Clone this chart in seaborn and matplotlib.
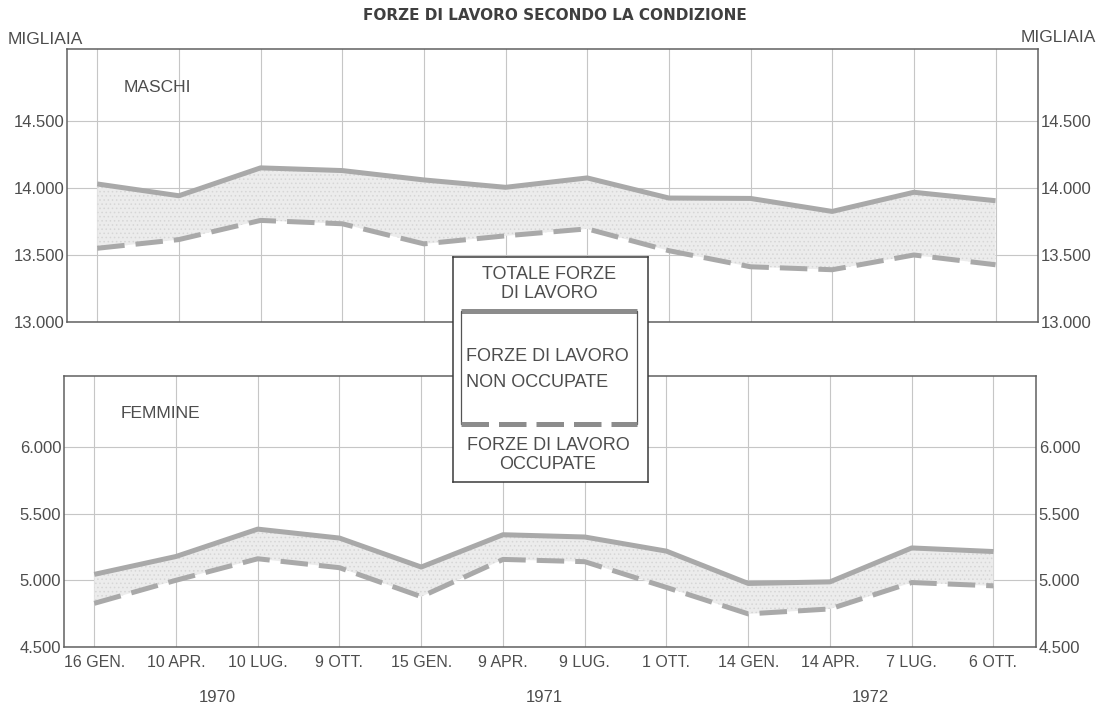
import matplotlib as mpl
import matplotlib.pyplot as plt
import numpy as np
import pandas as pd
import seaborn as sns

# rilevazioni trimestrali (migliaia)
date_labels = ["16 GEN.", "10 APR.", "10 LUG.", "9 OTT.", "15 GEN.", "9 APR.",
               "9 LUG.", "1 OTT.", "14 GEN.", "14 APR.", "7 LUG.", "6 OTT."]
years = ["1970", "1971", "1972"]

maschi_totale = [14030, 13942, 14150, 14130, 14060, 14005, 14075, 13925, 13922, 13825, 13968, 13905]
maschi_occupate = [13550, 13615, 13758, 13733, 13583, 13643, 13695, 13532, 13412, 13390, 13500, 13427]
femmine_totale = [5044, 5178, 5383, 5316, 5099, 5341, 5324, 5218, 4976, 4988, 5242, 5215]
femmine_occupate = [4827, 5000, 5161, 5094, 4877, 5156, 5139, 4946, 4748, 4785, 4983, 4958]

LINE_COLOR = "#a9a9a9"
FILL_COLOR = "#ececec"
GRID_COLOR = "#c6c6c6"
TEXT_COLOR = "#4d4d4d"
SPINE_COLOR = "#606060"
LW = 3.6
DASHES = (5.5, 2.2)

W, H = 1109, 709

sns.set_style("white")
plt.rcParams["font.family"] = ["Liberation Sans", "DejaVu Sans"]
plt.rcParams["hatch.linewidth"] = 0.6


def fmt_thousands(v, pos):
    return f"{v:,.0f}".replace(",", ".")


def plot_panel(ax, totale, occupate, ylim, yticks, label):
    pos = np.arange(len(totale))
    df = pd.DataFrame({
        "pos": np.concatenate([pos, pos]),
        "valore": totale + occupate,
        "serie": ["totale"] * len(pos) + ["occupate"] * len(pos),
    })
    ax.fill_between(pos, occupate, totale, facecolor=FILL_COLOR,
                    edgecolor="#d6d6d6", hatch="....", lw=0, zorder=1)
    sns.lineplot(data=df, x="pos", y="valore", style="serie",
                 dashes={"totale": "", "occupate": DASHES},
                 color=LINE_COLOR, lw=LW, legend=False, ax=ax, zorder=3)
    for line in ax.lines:
        line.set_solid_capstyle("butt")
        line.set_dash_capstyle("butt")

    ax.set_xlim(-0.37, 11.52)
    ax.set_ylim(*ylim)
    ax.set_xticks(pos)
    ax.set_yticks(yticks)
    ax.yaxis.set_major_formatter(mpl.ticker.FuncFormatter(fmt_thousands))
    ax.grid(True, color=GRID_COLOR, lw=0.8, zorder=0)
    ax.set_axisbelow(True)
    ax.tick_params(length=0, labelsize=12, labelcolor=TEXT_COLOR,
                   labelleft=True, labelright=True, pad=2)
    ax.set_xlabel("")
    ax.set_ylabel("")
    for sp in ax.spines.values():
        sp.set_visible(True)
        sp.set_color(SPINE_COLOR)
        sp.set_linewidth(1.1)
    ax.text(0.058, 0.86, label, transform=ax.transAxes, fontsize=12.5,
            color=TEXT_COLOR, ha="left", va="center")


fig = plt.figure(figsize=(W / 100, H / 100), dpi=100)

ax_m = fig.add_axes([67 / W, 1 - 322 / H, (1038 - 67) / W, (322 - 49) / H])
plot_panel(ax_m, maschi_totale, maschi_occupate, (13000, 15037),
           [13000, 13500, 14000, 14500], "MASCHI")
ax_m.tick_params(labelbottom=False)

ax_f = fig.add_axes([64 / W, 1 - 647 / H, (1036 - 64) / W, (647 - 376) / H])
plot_panel(ax_f, femmine_totale, femmine_occupate, (4500, 6530),
           [4500, 5000, 5500, 6000], "FEMMINE")
ax_f.set_xticklabels(date_labels, fontsize=11.5)
ax_f.tick_params(axis="x", pad=6)

# anni sotto le date
for i, yr in enumerate(years):
    ax_f.text(4 * i + 1.5, -0.185, yr, transform=ax_f.get_xaxis_transform(),
              ha="center", va="center", fontsize=12, color=TEXT_COLOR)

fig.text(0.5, 1 - 16 / H, "FORZE DI LAVORO SECONDO LA CONDIZIONE",
         ha="center", va="center", fontsize=11, fontweight="bold",
         color="#3f3f3f", family="DejaVu Sans")
fig.text(8 / W, 1 - 40 / H, "MIGLIAIA", ha="left", va="center",
         fontsize=12.5, color=TEXT_COLOR)
fig.text(1096 / W, 1 - 38 / H, "MIGLIAIA", ha="right", va="center",
         fontsize=12.5, color=TEXT_COLOR)

# legenda
lax = fig.add_axes([453 / W, 1 - 482 / H, 195 / W, 225 / H], zorder=10)
lax.set_xlim(0, 195)
lax.set_ylim(225, 0)
lax.set_xticks([])
lax.set_yticks([])
lax.set_facecolor("white")
for sp in lax.spines.values():
    sp.set_visible(True)
    sp.set_color("#3a3a3a")
    sp.set_linewidth(1.1)
lax.plot([8, 184], [54, 54], color="#8c8c8c", lw=LW, solid_capstyle="butt")
lax.plot([8, 8], [54, 167], color="#555555", lw=0.9)
lax.plot([184, 184], [54, 167], color="#555555", lw=0.9)
lax.plot([8, 184], [167, 167], color="#8c8c8c", lw=LW, dashes=(5.5, 2.0),
         dash_capstyle="butt")
lkw = dict(fontsize=13, color=TEXT_COLOR, va="center")
lax.text(96, 27, "TOTALE FORZE\nDI LAVORO", ha="center", linespacing=1.15, **lkw)
lax.text(94, 99, "FORZE DI LAVORO", ha="center", **lkw)
lax.text(13, 125, "NON OCCUPATE", ha="left", **lkw)
lax.text(95, 198, "FORZE DI LAVORO\nOCCUPATE", ha="center", linespacing=1.15, **lkw)

plt.savefig("out.png", dpi=100)
plt.close()
